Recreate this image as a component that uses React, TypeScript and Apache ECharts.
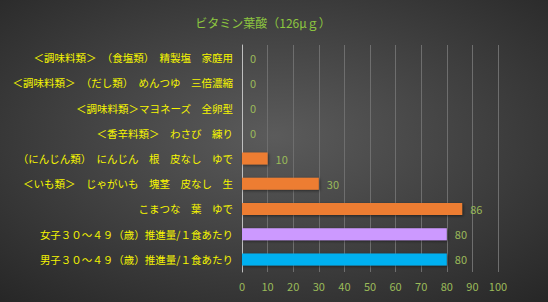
import React, { useEffect, useRef } from "react";
import * as echarts from "echarts";

const categories = [
  "＜調味料類＞　（食塩類）　精製塩　家庭用",
  "＜調味料類＞　（だし類）　めんつゆ　三倍濃縮",
  "＜調味料類＞マヨネーズ　全卵型",
  "＜香辛料類＞　わさび　練り",
  "（にんじん類）　にんじん　根　皮なし　ゆで",
  "＜いも類＞　じゃがいも　塊茎　皮なし　生",
  "こまつな　葉　ゆで",
  "女子３０～４９（歳）推進量/１食あたり",
  "男子３０～４９（歳）推進量/１食あたり",
];
const values = [0, 0, 0, 0, 10, 30, 86, 80, 80];
const barColors = ["#ED7D31", "#ED7D31", "#ED7D31", "#ED7D31", "#ED7D31", "#ED7D31", "#ED7D31", "#CC99FF", "#00B0F0"];
const titleText = "ビタミン葉酸（126μｇ）";

export default function App() {
  const ref = useRef<HTMLDivElement>(null);
  useEffect(() => {
    if (!ref.current) return;
    const chart = echarts.init(ref.current, undefined, { renderer: "svg" });
    const font = "'Noto Sans CJK JP', 'Noto Sans', sans-serif";
    chart.setOption({
      animation: false,
      backgroundColor: {
        type: "radial",
        x: 0.5,
        y: 0.45,
        r: 0.75,
        colorStops: [
          { offset: 0, color: "#5b5b5b" },
          { offset: 1, color: "#262626" },
        ],
      },
      title: {
        text: titleText,
        left: 258,
        top: 11,
        textAlign: "center",
        textStyle: { color: "#8DC63F", fontSize: 12, fontWeight: "normal", fontFamily: font },
      },
      grid: { left: 242, right: 50, top: 45, bottom: 30, containLabel: false },
      xAxis: {
        type: "value",
        min: 0,
        max: 100,
        interval: 10,
        axisLine: { show: false },
        axisTick: { show: false },
        splitLine: { show: true, lineStyle: { color: "#6e6e6e", width: 1 } },
        axisLabel: { color: "#9BBB59", fontSize: 11, fontFamily: font, margin: 8 },
      },
      yAxis: {
        type: "category",
        data: categories,
        inverse: true,
        axisLine: { show: true, lineStyle: { color: "#bfbfbf", width: 1 } },
        axisTick: { show: false },
        axisLabel: { color: "#F5F500", fontSize: 10.5, fontFamily: font, margin: 9 },
      },
      series: [
        {
          type: "bar",
          barWidth: 12,
          data: values.map((v, i) => ({
            value: v,
            itemStyle: {
              color: barColors[i],
              shadowColor: "rgba(0,0,0,0.5)",
              shadowBlur: 3,
              shadowOffsetX: 1,
              shadowOffsetY: 1,
            },
          })),
          label: {
            show: true,
            position: "right",
            distance: 8,
            color: "#9BBB59",
            fontSize: 11,
            fontFamily: font,
          },
        },
      ],
    });
    return () => chart.dispose();
  }, []);
  return <div ref={ref} style={{ width: 548, height: 302, position: "absolute", left: 0, top: 0 }} />;
}
